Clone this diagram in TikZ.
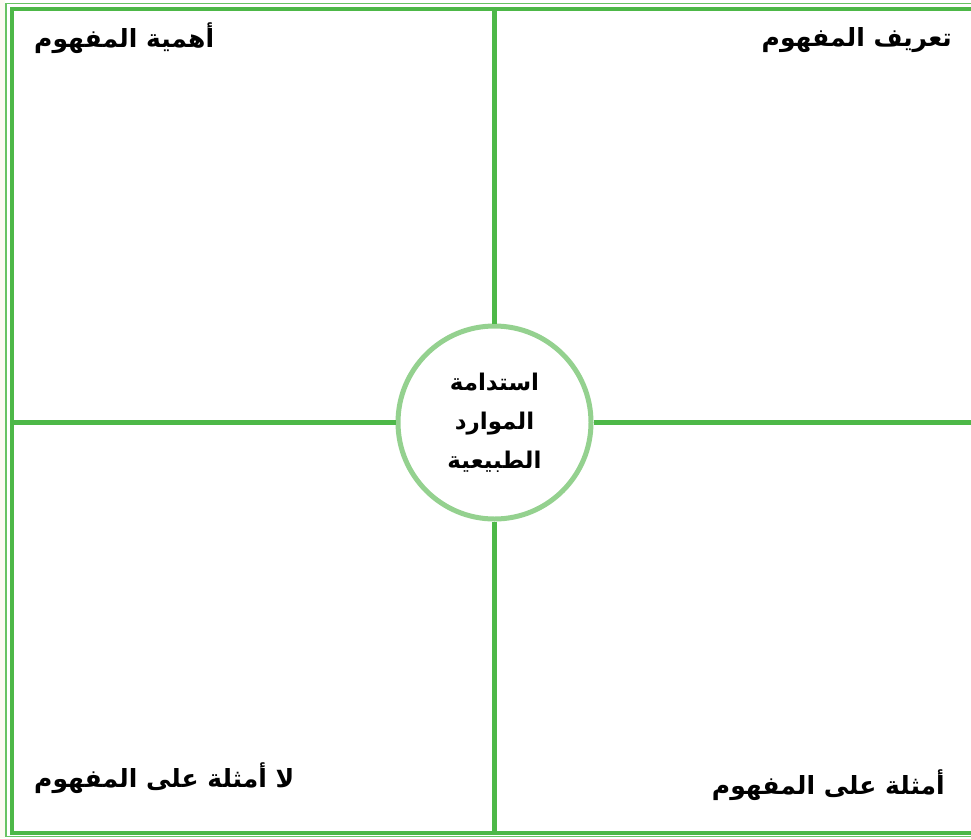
\documentclass[tikz,border=0pt]{standalone}
\usepackage{fontspec}
\newfontfamily\arabicfont[Script=Arabic]{DejaVu Sans}
\TeXXeTstate=1
\usetikzlibrary{positioning}
\definecolor{linegreen}{HTML}{4DB848}
\definecolor{ringgreen}{HTML}{94D18F}
\definecolor{paper}{HTML}{FBFAF2}
\tikzstyle{outerframe}=[draw=linegreen!85, line width=1.2pt]
\tikzstyle{innerframe}=[draw=linegreen, line width=4pt]
\tikzstyle{divider}=[draw=linegreen, line width=4.5pt]
\tikzstyle{quadtext}=[inner sep=0pt, font=\arabicfont\bfseries\fontsize{25}{30}\selectfont]
\tikzstyle{hub}=[circle, draw=ringgreen, line width=5pt, fill=white,
minimum size=193pt, align=center, inner sep=0pt,
font=\arabicfont\bfseries\fontsize{23}{39}\selectfont]

\begin{document}
\begin{tikzpicture}[x=1pt, y=-1pt]

    \useasboundingbox (0,0) rectangle (971,838);
    \fill[white] (0,0) rectangle (971,838);
    \fill[paper] (0,0) rectangle (4.5,838);

    % FRAME
    \draw[outerframe] (971,3.5) -- (6,3.5) -- (6,836.5) -- (971,836.5);
    \draw[innerframe] (971,9) -- (12,9) -- (12,833) -- (971,833);

    \coordinate (topMid) at (494.5,9);
    \coordinate (bottomMid) at (494.5,833);
    \coordinate (leftMid) at (12,422.5);
    \coordinate (rightMid) at (971,422.5);

    % CENTRE
    \node[hub] (centre) at (494.5,422.5) {\beginR استدامة\endR\\\beginR الموارد\endR\\\beginR الطبيعية\endR};
    \draw[divider] (centre.north) -- (topMid);
    \draw[divider] (centre.south) -- (bottomMid);
    \draw[divider] (centre.west) -- (leftMid);
    \draw[divider] (centre.east) -- (rightMid);

    % QUADRANTS
    \node[quadtext, anchor=east] (definition) at (952,40) {\beginR تعريف المفهوم\endR};
    \node[quadtext, anchor=west] (importance) at (34,38) {\beginR أهمية المفهوم\endR};
    \node[quadtext, anchor=west] (nonExamples) at (34,778) {\beginR لا أمثلة على المفهوم\endR};
    \node[quadtext, anchor=east] (examples) at (945,785) {\beginR أمثلة على المفهوم\endR};

\end{tikzpicture}
\end{document}
